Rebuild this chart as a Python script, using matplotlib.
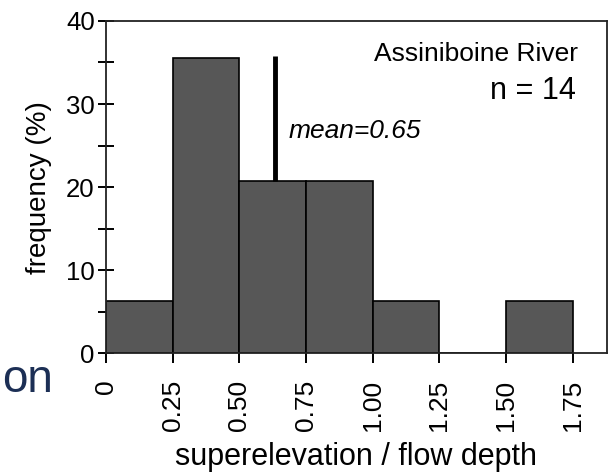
import matplotlib
matplotlib.use("Agg")
import matplotlib.pyplot as plt
from matplotlib.ticker import MultipleLocator

plt.rcParams["font.family"] = ["Liberation Sans", "DejaVu Sans"]

# histogram of superelevation / flow depth, Assiniboine River
BIN_EDGES = [0.0, 0.25, 0.50, 0.75, 1.00, 1.25, 1.50, 1.75]
FREQ_PCT = [6.3, 35.5, 20.7, 20.7, 6.3, 0.0, 6.3]
TICK_LABELS = ["0", "0.25", "0.50", "0.75", "1.00", "1.25", "1.50", "1.75"]
MEAN_X = 0.635
MEAN_TOP = 35.8

fig = plt.figure(figsize=(6.16, 4.76), dpi=100)
ax = fig.add_axes([0.172, 0.258, 0.813, 0.698])

widths = [b - a for a, b in zip(BIN_EDGES[:-1], BIN_EDGES[1:])]
ax.bar(BIN_EDGES[:-1], FREQ_PCT, width=widths, align="edge",
       color="#575757", edgecolor="black", linewidth=1.2, zorder=2)

# mean marker, from the top of its bar up
ax.plot([MEAN_X, MEAN_X], [FREQ_PCT[2], MEAN_TOP], color="black",
        linewidth=3.5, solid_capstyle="butt", zorder=3)

ax.set_xlim(0, 1.877)
ax.set_ylim(0, 40)
ax.set_xticks(BIN_EDGES)
ax.set_xticklabels(TICK_LABELS, rotation=90)
ax.yaxis.set_major_locator(MultipleLocator(10))
ax.yaxis.set_minor_locator(MultipleLocator(5))
ax.tick_params(axis="y", which="both", direction="inout", length=12,
               width=1.4, labelsize=18.5, pad=2)
ax.tick_params(axis="x", direction="out", length=7, width=1.4,
               labelsize=19, pad=12)
for spine in ax.spines.values():
    spine.set_linewidth(1.3)
    spine.set_color("#222222")

ax.set_ylabel("frequency (%)", fontsize=20, labelpad=10)
ax.set_xlabel("superelevation / flow depth", fontsize=22, labelpad=8)

ax.text(0.943, 0.90, "Assiniboine River", transform=ax.transAxes,
        ha="right", va="center", fontsize=19)
ax.text(0.939, 0.79, "n = 14", transform=ax.transAxes,
        ha="right", va="center", fontsize=22)
ax.text(0.365, 0.67, "mean=0.65", transform=ax.transAxes,
        ha="left", va="center", fontsize=19, style="italic")

# stray fragment of a neighbouring slide caption
fig.text(2 / 616, 1 - 380 / 476, "on", ha="left", va="center",
         fontsize=33, color="#1c2f55")

fig.savefig("out.png", dpi=100)
